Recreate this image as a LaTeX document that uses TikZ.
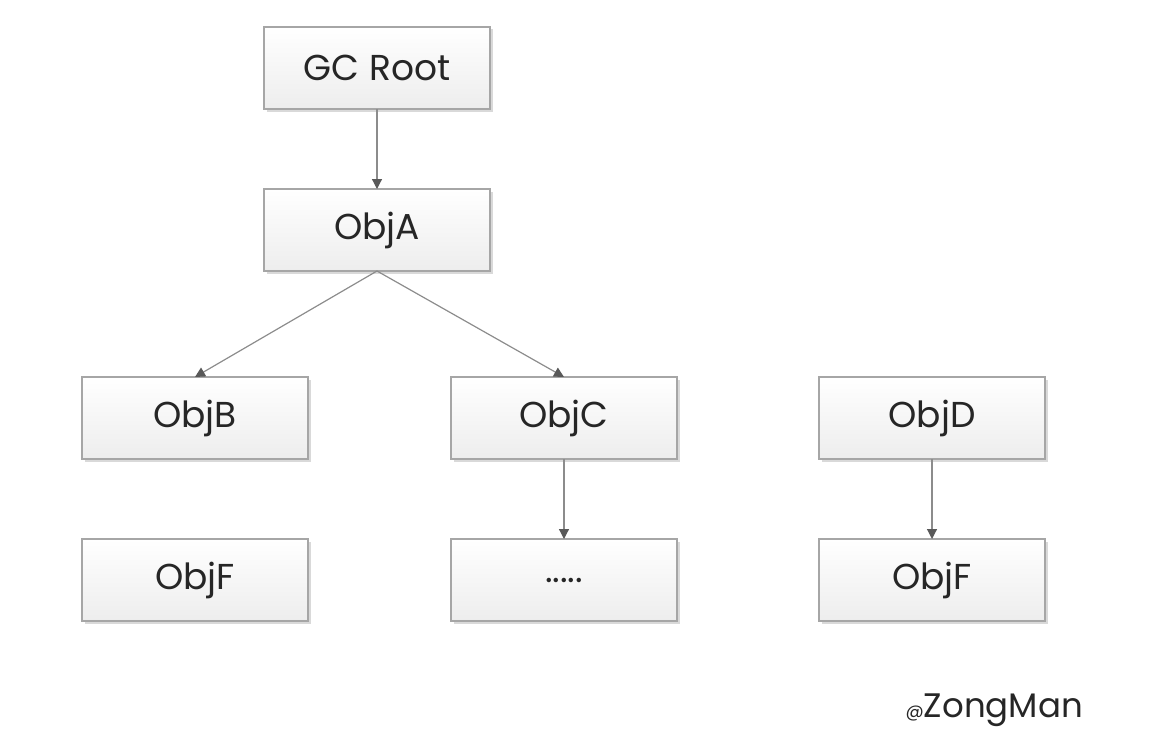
\documentclass[tikz,border=0pt]{standalone}
\usepackage{fontspec}
\setmainfont{Poppins}
\usepackage{tikz}
\usetikzlibrary{arrows.meta,positioning,shadows}

\definecolor{boxline}{HTML}{A6A6A6}
\definecolor{boxbot}{HTML}{EDEDED}
\definecolor{edgeline}{HTML}{8C8C8C}
\definecolor{tipfill}{HTML}{595959}

\begin{document}
\begin{tikzpicture}[node distance=80pt and 143pt,
>={Triangle[length=10pt,width=10pt,color=tipfill]},
box/.style={draw=boxline,line width=1.2pt,top color=white,bottom color=boxbot,
  minimum width=226pt,minimum height=82pt,inner sep=0pt,outer sep=0pt,
  drop shadow={shadow xshift=2.5pt,shadow yshift=-2.5pt,fill=black,opacity=0.15},
  font=\fontsize{36}{42}\selectfont,text=black!85},
edge/.style={->,draw=edgeline,line width=1.2pt}]
\useasboundingbox (0,0) rectangle (1162pt,-752pt);
\node[box] (root) at (377pt,-68pt) {GC Root};
\node[box,below=of root] (objA) {ObjA};
\node[box] (objB) at (195pt,-418pt) {ObjB};
\node[box,right=of objB] (objC) {ObjC};
\node[box,right=142pt of objC] (objD) {ObjD};
\node[box,below=of objB] (objF) {ObjF};
\node[box,below=of objC] (more) {.....};
\node[box,below=of objD] (objFF) {ObjF};
\draw[edge] (root)--(objA);
\draw[edge] (objA.south)--(objB.north);
\draw[edge] (objA.south)--(objC.north);
\draw[edge] (objC)--(more);
\draw[edge] (objD)--(objFF);
% watermark
\node[anchor=base east,inner sep=0pt,text=black!85,font=\fontsize{34}{40}\selectfont] (tag) at (1083pt,-717pt) {{\fontsize{18}{20}\selectfont @}ZongMan};
\end{tikzpicture}
\end{document}
